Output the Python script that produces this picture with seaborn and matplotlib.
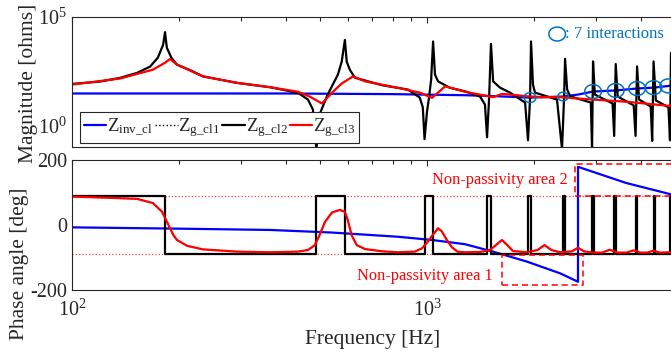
import numpy as np
import matplotlib
matplotlib.use("Agg")
import matplotlib.pyplot as plt
from matplotlib.patches import Rectangle
from matplotlib.path import Path
from matplotlib.ticker import FixedLocator, NullFormatter, FuncFormatter
import seaborn as sns

# ---------------- data ----------------
# Inverter-side closed-loop impedance Z_inv_cl
inv_mag_freq = [100, 400, 800, 1279, 1535, 1950, 2416, 2662, 2935, 3400, 3905, 4346, 4866]
inv_mag_log10 = [1.47, 1.47, 1.44, 1.39, 1.35, 1.28, 1.33, 1.42, 1.56, 1.61, 1.70, 1.74, 1.83]
inv_ph_freq = [100, 200, 361, 540, 828, 1033, 1279, 1535, 1914, 2371, 2662, 2662, 3641, 4866]
inv_ph_deg = [-8, -12, -16, -24, -37, -47, -60, -83, -114, -150, -176, 179, 129, 94]

# Grid-side impedance Z_g_cl2 (undamped cable model)
cl2_mag_freq = [100, 119.9, 136.5, 152.5, 165.9, 174.5, 180.6, 182.8, 185, 190.5,
                197.6, 215, 233.7, 291.6, 361, 433, 462, 477, 488, 498,
                525, 561, 575, 587, 594, 606, 626, 748, 884, 954,
                973, 984, 1000, 1013, 1027, 1040, 1053, 1074, 1157, 1279,
                1410, 1456, 1476, 1495, 1514, 1535, 1605, 1713, 1889, 1925,
                1951, 1963, 1988, 2014, 2323, 2400, 2431, 2448, 2481, 2531,
                2893, 2916, 2935, 2970, 3331, 3366, 3400, 3444, 3820, 3867,
                3905, 3956, 4266, 4307, 4346, 4410, 4786, 4834, 4866]
cl2_mag_log10 = [1.91, 2.02, 2.19, 2.42, 2.71, 3.12, 3.72, 4.30, 3.58, 3.12,
                 2.80, 2.55, 2.26, 1.96, 1.76, 1.50, 1.19, 0.73, -1.1, 0.50,
                 1.42, 2.34, 2.94, 3.94, 2.94, 2.57, 2.20, 1.85, 1.65, 1.28,
                 0.83, -0.64, 0.64, 1.28, 2.11, 3.87, 2.34, 2.03, 1.74, 1.57,
                 1.33, 0.96, -0.55, 1.19, 3.76, 2.03, 1.74, 1.51, 1.05, -0.69,
                 1.28, 3.87, 1.88, 1.51, 1.19, -1.1, 1.19, 3.07, 1.65, 1.34,
                 1.05, -1.1, 2.95, 1.42, 1.01, -0.49, 2.83, 1.33, 0.92, -0.49,
                 2.72, 1.19, 0.87, -0.72, 2.95, 1.15, 0.83, -0.69, 3.35]
cl2_ph_freq = [100, 182.8, 488, 587, 984, 1040, 1476, 1514, 1925, 1963, 2415, 2448,
               2916, 2944, 3362, 3397, 3878, 3905, 4346, 4375, 4824, 4853, 4866]
cl2_ph_deg = [90, -90, 90, -90, 90, -90, 90, -90, 90, -90, 90, -90,
              90, -90, 90, -90, 90, -90, 90, -90, 90, -90, -90]

# Grid-side impedance Z_g_cl3 (damped cable model)
cl3_mag_freq = [100, 136.5, 169.1, 182.8, 188.9, 197.6, 233.7, 291.6, 361, 433,
                467, 506, 540, 575, 619, 669, 828, 954, 1033, 1125,
                1279, 1535, 1626, 1713, 1914, 2110, 2371, 2640, 2935, 3641, 4866]
cl3_mag_log10 = [1.88, 2.16, 2.57, 2.89, 3.06, 2.80, 2.26, 1.96, 1.76, 1.55,
                 1.33, 1.01, 1.51, 1.93, 2.26, 2.03, 1.73, 1.51, 1.27, 1.80,
                 1.55, 1.30, 1.45, 1.42, 1.34, 1.30, 1.30, 1.24, 1.19, 1.09, 0.89]
cl3_ph_freq = [100, 130, 152.5, 169, 179.4, 184, 188.9, 193, 197.6, 210.9,
               233.7, 291.6, 361, 433, 462, 483, 498, 516, 540, 568,
               587, 598, 613, 634, 669, 748, 828, 923, 967, 1000,
               1040, 1074, 1100, 1137, 1176, 1219, 1279, 1410, 1505, 1566,
               1626, 1680, 1745, 1914, 2047, 2142, 2241, 2371, 2561, 2662,
               2766, 2935, 3117, 3272, 3433, 3641, 3820, 3986, 4183, 4337,
               4524, 4866]
cl3_ph_deg = [87, 83, 80, 67, 40, 15, -11, -32, -47, -65,
              -76, -83, -85, -83, -78, -63, -32, 9, 38, 46,
              40, 15, -32, -63, -75, -82, -85, -83, -73, -55,
              -30, -11, -20, -47, -70, -83, -85, -84, -78, -62,
              -47, -62, -81, -85, -78, -63, -78, -85, -82, -71,
              -82, -86, -86, -77, -86, -86, -79, -86, -86, -80,
              -86, -85]

# Z_g_cl1 follows the damped response
cl1_mag_freq, cl1_mag_log10 = cl3_mag_freq, cl3_mag_log10
cl1_ph_freq, cl1_ph_deg = cl3_ph_freq, cl3_ph_deg

# Intersections of |Z_inv_cl| with |Z_g|
cross_freq = [1950, 2416, 2935, 3400, 3905, 4346, 4780]
cross_mag_log10 = [1.28, 1.33, 1.56, 1.61, 1.70, 1.74, 1.82]

passivity_limits_deg = [90, -90]
area1_freq, area1_deg = (1626, 2748), (-186, -93)
area2_freq, area2_deg = (2612, 5300), (88, 188)

legend_labels = [r"$\mathdefault{Z_{inv\_cl}}$", r"$\mathdefault{Z_{g\_cl1}}$",
                 r"$\mathdefault{Z_{g\_cl2}}$", r"$\mathdefault{Z_{g\_cl3}}$"]

# ---------------- style ----------------
sns.set_theme(style="white")
plt.rcParams["font.family"] = ["Liberation Serif", "DejaVu Serif"]
plt.rcParams["mathtext.fontset"] = "custom"
plt.rcParams["mathtext.rm"] = "Liberation Serif"
plt.rcParams["mathtext.it"] = "Liberation Serif:italic"

DARK = "#262626"
BLUE = "#0000ff"
RED = "#ff0000"
MBLUE = "#0072bd"
XMIN, XMAX = 100, 4866

fig = plt.figure(figsize=(6.71, 3.58), dpi=100)
ax_m = fig.add_axes([0.1073, 0.5894, 0.8927, 0.3631])
ax_p = fig.add_axes([0.1073, 0.1913, 0.8927, 0.3617])

for ax in (ax_m, ax_p):
    ax.set_xscale("log")
    ax.set_xlim(XMIN, XMAX)
    for side, sp in ax.spines.items():
        sp.set_color(DARK)
        sp.set_linewidth(0.8)
    ax.spines["right"].set_visible(False)
    ax.xaxis.set_major_locator(FixedLocator([100, 1000]))
    ax.xaxis.set_minor_locator(FixedLocator([200, 300, 400, 500, 600, 700, 800, 900,
                                             2000, 3000, 4000]))
    ax.xaxis.set_minor_formatter(NullFormatter())
    ax.tick_params(which="both", direction="in", top=True, right=False,
                   color=DARK, width=0.8, labelsize=14.5, labelcolor=DARK)
    ax.tick_params(which="major", length=4)
    ax.tick_params(which="minor", length=2.8)

# ---- magnitude ----
ax_m.set_yscale("log")
ax_m.set_ylim(0.1, 1e5)
lw = 1.6
sns.lineplot(x=inv_mag_freq, y=10 ** np.array(inv_mag_log10), ax=ax_m, color=BLUE,
             lw=lw, estimator=None, sort=False, label=legend_labels[0])
sns.lineplot(x=cl1_mag_freq, y=10 ** np.array(cl1_mag_log10), ax=ax_m, color="black",
             lw=1.0, ls=":", estimator=None, sort=False, label=legend_labels[1])
sns.lineplot(x=cl2_mag_freq, y=10 ** np.array(cl2_mag_log10), ax=ax_m, color="black",
             lw=lw, estimator=None, sort=False, label=legend_labels[2])
sns.lineplot(x=cl3_mag_freq, y=10 ** np.array(cl3_mag_log10), ax=ax_m, color=RED,
             lw=lw, estimator=None, sort=False, label=legend_labels[3])

# elliptical ring marker for the intersection points
t = np.linspace(0, 2 * np.pi, 60)
ring = Path(np.column_stack([1.2 * np.cos(t), np.sin(t)]))
ring_sizes = [8.5, 7.5, 12, 12, 12, 12, 12]
ax_m.scatter(cross_freq, 10 ** np.array(cross_mag_log10), marker=ring,
             s=np.array(ring_sizes) ** 2, facecolors="none", edgecolors=MBLUE,
             linewidths=1.1, zorder=5, clip_on=True)
ax_m.scatter([0.81], [0.869], marker=ring, s=12 ** 2, facecolors="none",
             edgecolors=MBLUE, linewidths=1.1, transform=ax_m.transAxes, zorder=5)
ax_m.text(0.823, 0.869, ": 7 interactions", transform=ax_m.transAxes,
          color=MBLUE, fontsize=12, va="center", ha="left")

ax_m.yaxis.set_major_locator(FixedLocator([1e-1, 1, 10, 100, 1e3, 1e4, 1e5]))
ax_m.yaxis.set_minor_locator(FixedLocator([]))
ax_m.yaxis.set_major_formatter(FuncFormatter(
    lambda v, p: {1.0: r"$\mathdefault{10^{0}}$", 1e5: r"$\mathdefault{10^{5}}$"}.get(v, "")))
ax_m.tick_params(axis="x", which="both", labelbottom=False)
ax_m.set_ylabel("Magnitude [ohms]", fontsize=15.5, color=DARK)
ax_m.yaxis.set_label_coords(-0.057, 0.49)

leg = ax_m.legend(loc="lower left", bbox_to_anchor=(0.013, 0.03), ncol=4,
                  fontsize=13.5, handlelength=1.2, handletextpad=0.05,
                  columnspacing=0.1, borderpad=0.2, borderaxespad=0.0,
                  frameon=True, fancybox=False, framealpha=1.0, edgecolor=DARK)
leg.get_frame().set_linewidth(0.8)

# ---- phase ----
ax_p.set_ylim(-200, 200)
for lim in passivity_limits_deg:
    ax_p.axhline(lim, color=RED, ls=":", lw=0.9, alpha=0.75, zorder=1)
sns.lineplot(x=inv_ph_freq, y=inv_ph_deg, ax=ax_p, color=BLUE, lw=lw,
             estimator=None, sort=False)
sns.lineplot(x=cl1_ph_freq, y=cl1_ph_deg, ax=ax_p, color="black", lw=1.0, ls=":",
             estimator=None, sort=False)
sns.lineplot(x=cl2_ph_freq, y=cl2_ph_deg, ax=ax_p, color="black", lw=lw,
             estimator=None, sort=False, drawstyle="steps-post")
sns.lineplot(x=cl3_ph_freq, y=cl3_ph_deg, ax=ax_p, color=RED, lw=lw,
             estimator=None, sort=False)

for (f0, f1), (d0, d1) in ((area1_freq, area1_deg), (area2_freq, area2_deg)):
    ax_p.add_patch(Rectangle((f0, d0), f1 - f0, d1 - d0, fill=False, edgecolor=RED,
                             ls=(0, (4, 2.5)), lw=1.1, zorder=4))
ax_p.text(1607, 138, "Non-passivity area 2", color=RED, fontsize=11.8,
          ha="center", va="center")
ax_p.text(986, -158, "Non-passivity area 1", color=RED, fontsize=11.8,
          ha="center", va="center")

ax_p.yaxis.set_major_locator(FixedLocator([-200, 0, 200]))
ax_p.yaxis.set_major_formatter(FuncFormatter(lambda v, p: f"{v:.0f}"))
ax_p.tick_params(axis="x", which="major", pad=7)
ax_p.set_ylabel("Phase angle [deg]", fontsize=15.5, color=DARK)
ax_p.yaxis.set_label_coords(-0.072, 0.197)
ax_p.set_xlabel("Frequency [Hz]", fontsize=15.5, color=DARK)
ax_p.xaxis.set_label_coords(0.5017, -0.31)

fig.savefig("out.png", dpi=100)
